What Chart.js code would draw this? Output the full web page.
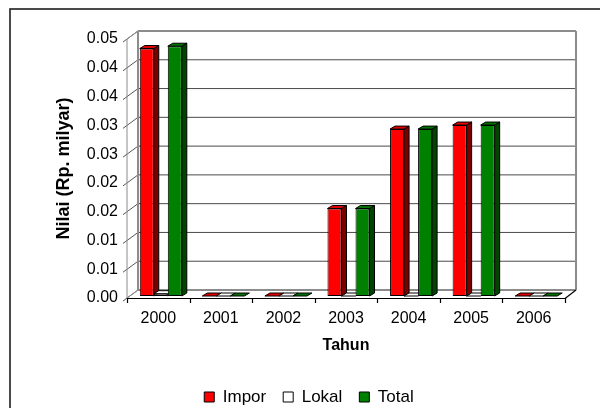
<!DOCTYPE html>
<html>
<head>
<meta charset="utf-8">
<script src="https://cdn.jsdelivr.net/npm/chart.js@4"></script>
<style>
  html, body { margin: 0; padding: 0; background: #fff; overflow: hidden; }
  #wrap { width: 600px; height: 408px; overflow: hidden; }
  canvas { display: block; }
</style>
</head>
<body>
<div id="wrap"><canvas id="nilai-chart" width="620" height="420"></canvas></div>
<script>
// Nilai impor / lokal per tahun (Rp. milyar)
const years = ['2000', '2001', '2002', '2003', '2004', '2005', '2006'];
const impor = [0.0430, 0, 0, 0.0152, 0.0290, 0.0297, 0];
const lokal = [0.0004, 0, 0, 0, 0, 0, 0];
const total = [0.0434, 0, 0, 0.0152, 0.0290, 0.0297, 0];
const yTickLabels = ['0.00', '0.01', '0.01', '0.02', '0.02', '0.03', '0.03', '0.04', '0.04', '0.05'];

const FONT = "'Liberation Sans', Arial, sans-serif";
Chart.defaults.font.family = FONT;
Chart.defaults.color = '#000';

// 3D look: wall depth, bar depth, and offset of bars toward the middle of the floor
const WALL = { dx: 11, dy: 8 };
const BAR = { dx: 5, dy: 3 };
const BAR_SHIFT = { x: 2.5, y: -2 };
const sideColors = ['#7a0000', '#9a9a9a', '#004400'];
const topColors = ['#e00000', '#ffffff', '#007000'];

function line(ctx, x1, y1, x2, y2) {
  ctx.beginPath();
  ctx.moveTo(x1, y1);
  ctx.lineTo(x2, y2);
  ctx.stroke();
}

function poly(ctx, pts, fill) {
  ctx.beginPath();
  ctx.moveTo(pts[0][0], pts[0][1]);
  for (let i = 1; i < pts.length; i++) ctx.lineTo(pts[i][0], pts[i][1]);
  ctx.closePath();
  ctx.fillStyle = fill;
  ctx.fill();
  ctx.stroke();
}

const box3d = {
  id: 'box3d',
  beforeDatasetsDraw(chart) {
    const { ctx, chartArea: a, scales: { x, y } } = chart;
    const L = a.left, R = a.right, T = a.top, B = a.bottom;
    const { dx, dy } = WALL;

    ctx.save();
    ctx.lineWidth = 1;

    // back wall grid lines
    ctx.strokeStyle = '#4a4a4a';
    y.ticks.forEach((t, i) => {
      if (i === 0 || i === y.ticks.length - 1) return;
      const py = y.getPixelForValue(t.value);
      line(ctx, L + dx, py - dy, R + dx, py - dy);
    });

    // side wall tick marks running back to the wall
    ctx.strokeStyle = '#555';
    y.ticks.forEach(t => {
      const py = y.getPixelForValue(t.value);
      line(ctx, L - 4, py + 3, L + dx, py - dy);
    });

    // wall edges
    ctx.strokeStyle = '#8c8c8c';
    ctx.lineWidth = 2;
    line(ctx, L + dx, T - dy, R + dx, T - dy);
    line(ctx, L + dx, T - dy, L + dx, B - dy);
    line(ctx, R + dx, T - dy, R + dx, B - dy);
    line(ctx, L + dx, B - dy, R + dx, B - dy);
    ctx.lineWidth = 1;
    line(ctx, L, T, L, B);
    line(ctx, L, T, L + dx, T - dy);
    line(ctx, L, B, L + dx, B - dy);

    // floor front edge and category ticks
    ctx.strokeStyle = '#000';
    ctx.lineWidth = 1.2;
    line(ctx, L, B + 0.5, R, B + 0.5);
    line(ctx, R, B + 0.5, R + dx, B - dy);
    const n = years.length;
    for (let i = 0; i <= n; i++) {
      const px = Math.round(L + i * (R - L) / n) + 0.5;
      line(ctx, px, B, px, B + 5);
    }
    ctx.restore();

    // side and top faces of each bar, then leave the shift on for the fronts
    ctx.save();
    ctx.translate(BAR_SHIFT.x, BAR_SHIFT.y);
    ctx.strokeStyle = '#000';
    ctx.lineWidth = 1;
    chart.data.datasets.forEach((ds, di) => {
      const meta = chart.getDatasetMeta(di);
      meta.data.forEach(bar => {
        const p = bar.getProps(['x', 'y', 'base', 'width'], true);
        const l = p.x - p.width / 2, r = p.x + p.width / 2;
        const top = Math.min(p.y, p.base), base = Math.max(p.y, p.base);
        if (base - top > 0.5) {
          poly(ctx, [[r, top], [r + BAR.dx, top - BAR.dy], [r + BAR.dx, base - BAR.dy], [r, base]], sideColors[di]);
        }
        poly(ctx, [[l, top], [l + BAR.dx, top - BAR.dy], [r + BAR.dx, top - BAR.dy], [r, top]], topColors[di]);
      });
    });
  },
  afterDatasetsDraw(chart) {
    chart.ctx.restore();
  },
  afterDraw(chart) {
    const ctx = chart.ctx;
    ctx.save();
    ctx.strokeStyle = '#1e1e1e';
    ctx.lineWidth = 1.6;
    ctx.strokeRect(10, 9, 800, 800);
    ctx.restore();
  }
};

const ctx = document.getElementById('nilai-chart').getContext('2d');
new Chart(ctx, {
  type: 'bar',
  data: {
    labels: years,
    datasets: [
      { label: 'Impor', data: impor, backgroundColor: '#ff0000' },
      { label: 'Lokal', data: lokal, backgroundColor: '#ffffff' },
      { label: 'Total', data: total, backgroundColor: '#008000' }
    ].map(d => Object.assign(d, {
      borderColor: '#000',
      borderWidth: 1,
      borderSkipped: false,
      categoryPercentage: 0.672,
      barPercentage: 1
    }))
  },
  options: {
    responsive: false,
    animation: false,
    devicePixelRatio: 1,
    layout: { padding: { left: 53, right: 55, top: 39, bottom: 4.5 } },
    plugins: {
      tooltip: { enabled: false },
      legend: {
        position: 'bottom',
        labels: {
          boxWidth: 10,
          boxHeight: 10,
          padding: 17,
          color: '#000',
          font: { size: 17 }
        }
      }
    },
    scales: {
      x: {
        grid: { display: false, drawTicks: false },
        border: { display: false },
        ticks: { padding: 11, font: { size: 16 }, color: '#000' },
        title: {
          display: true,
          text: 'Tahun',
          font: { size: 16, weight: 'bold' },
          color: '#000',
          padding: { top: 0, bottom: 16 }
        },
        afterFit(scale) { scale.height = 73.5; }
      },
      y: {
        min: 0,
        max: 0.045,
        grid: { display: false, drawTicks: false },
        border: { display: false },
        ticks: {
          stepSize: 0.005,
          padding: 9,
          font: { size: 16 },
          color: '#000',
          callback: (v, i) => yTickLabels[i]
        },
        title: {
          display: true,
          text: 'Nilai (Rp. milyar)',
          font: { size: 18, weight: 'bold' },
          color: '#000',
          padding: { top: 0, bottom: 0 }
        },
        afterFit(scale) { scale.width = 74; }
      }
    }
  },
  plugins: [box3d]
});
</script>
</body>
</html>
